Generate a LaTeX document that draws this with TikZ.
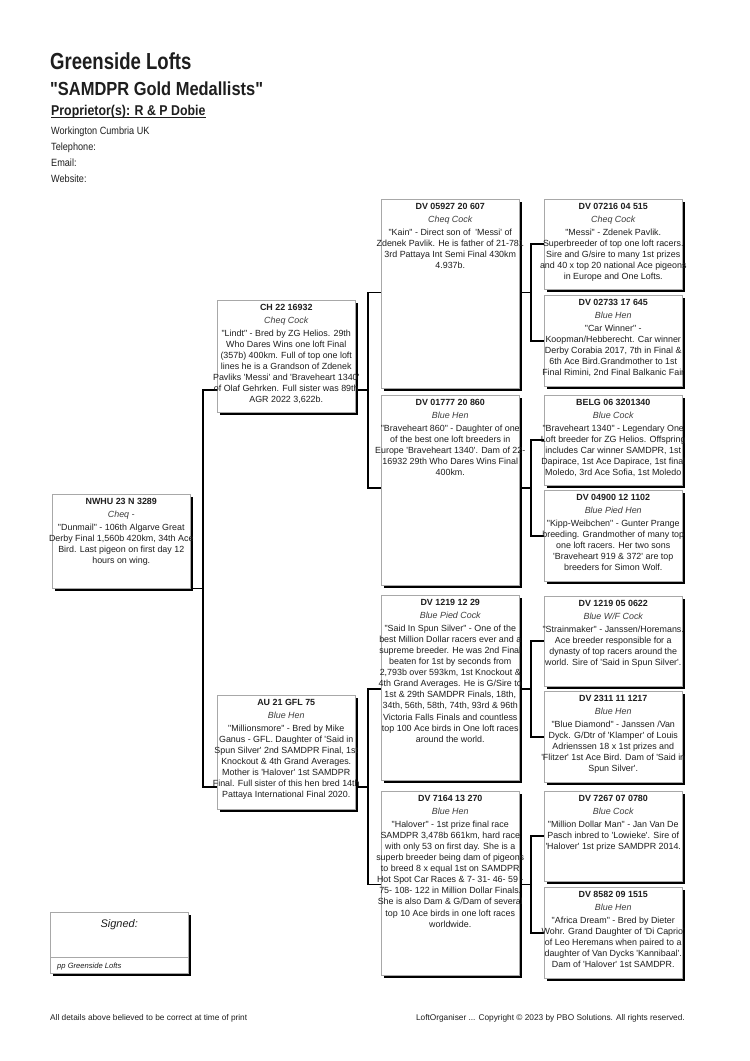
\documentclass[tikz,border=0pt]{standalone}
\usepackage{fontspec}
\setmainfont{Liberation Sans}
\newfontfamily\pedfont{Liberation Sans}
\newfontfamily\headfont{Liberation Sans}[FakeStretch=0.87]
\newfontfamily\titlefont{Liberation Sans}[FakeStretch=0.8]
\usepackage{tikz}
\usetikzlibrary{calc,positioning,shadows}
\pgfdeclarelayer{background}
\pgfsetlayers{background,main}
\definecolor{PedInk}{HTML}{1E1E1E}
\definecolor{PedEdge}{HTML}{A8A8A8}
\definecolor{PedGrey}{HTML}{3C3C3C}

\tikzset{
  pbox/.style={draw=PedEdge,line width=0.5pt,fill=white,anchor=north west,inner sep=0pt,
    minimum width=138pt,drop shadow={shadow xshift=2.6pt,shadow yshift=-2.6pt,fill=black,opacity=1}},
  ptext/.style={anchor=north,align=center,inner sep=0pt,text=PedInk,
    font=\pedfont\fontsize{8.9}{11.1}\selectfont},
  head/.style={anchor=base west,inner sep=0pt,text=PedInk},
  link/.style={line width=1.9pt,black,line join=miter},
}

% one pedigree card: name, top left, height, ring, colour, notes
\newcommand{\pigeon}[6]{%
  \node[pbox,minimum height=#3] (#1) at (#2) {};
  \node[ptext] (#1-t) at ([yshift=-3.6pt]#1.north)
    {\textbf{#4}\\[2pt]{\color{PedGrey}\itshape #5}\\[2pt]#6};
}

\begin{document}
\begin{tikzpicture}[x=1pt,y=-1pt]
  \begin{pgfonlayer}{background}
    \fill[white] (0,0) rectangle (750,1061);
  \end{pgfonlayer}
  \useasboundingbox (0,0) rectangle (750,1061);

  % header
  \node[head,font=\titlefont\bfseries\fontsize{23.2}{26}\selectfont] (title) at (50,69) {Greenside Lofts};
  \node[head,font=\headfont\bfseries\fontsize{18.9}{22}\selectfont] (subtitle) at (50,95) {"SAMDPR Gold Medallists"};
  \node[head,font=\headfont\bfseries\fontsize{14.2}{16}\selectfont] (owner) at (51,115) {Proprietor(s): R \& P Dobie};
  \draw[line width=1.1pt,PedInk] ([yshift=-2.6pt]owner.base west) -- ([yshift=-2.6pt]owner.base east);
  \foreach \t [count=\i] in {Workington Cumbria UK,Telephone:,Email:,Website:}{
    \node[head,font=\headfont\fontsize{10.5}{12}\selectfont] (addr\i) at (51,118+16*\i) {\t};
  }

  % subject
  \pigeon{p}{52,494}{94pt}{NWHU 23 N 3289}{Cheq -}{"Dunmail" - 106th Algarve Great\\Derby Final 1,560b 420km, 34th Ace\\Bird. Last pigeon on first day 12\\hours on wing.}

  % parents
  \pigeon{s}{217,300}{112pt}{CH 22 16932}{Cheq Cock}{"Lindt" - Bred by ZG Helios. 29th\\Who Dares Wins one loft Final\\(357b) 400km. Full of top one loft\\lines he is a Grandson of Zdenek\\Pavliks 'Messi' and 'Braveheart 1340'\\of Olaf Gehrken. Full sister was 89th\\AGR 2022 3,622b.}
  \pigeon{d}{217,695}{114pt}{AU 21 GFL 75}{Blue Hen}{"Millionsmore" - Bred by Mike\\Ganus - GFL. Daughter of 'Said in\\Spun Silver' 2nd SAMDPR Final, 1st\\Knockout \& 4th Grand Averages.\\Mother is 'Halover' 1st SAMDPR\\Final. Full sister of this hen bred 14th\\Pattaya International Final 2020.}

  % grandparents
  \pigeon{ss}{381,199}{189pt}{DV 05927 20 607}{Cheq Cock}{"Kain" - Direct son of \ 'Messi' of\\Zdenek Pavlik. He is father of 21-781\\3rd Pattaya Int Semi Final 430km\\4.937b.}
  \pigeon{sd}{381,395}{190pt}{DV 01777 20 860}{Blue Hen}{"Braveheart 860" - Daughter of one\\of the best one loft breeders in\\Europe 'Braveheart 1340'. Dam of 22-\\16932 29th Who Dares Wins Final\\400km.}
  \pigeon{ds}{381,595}{185pt}{DV 1219 12 29}{Blue Pied Cock}{"Said In Spun Silver" - One of the\\best Million Dollar racers ever and a\\supreme breeder. He was 2nd Final\\beaten for 1st by seconds from\\2,793b over 593km, 1st Knockout \&\\4th Grand Averages. He is G/Sire to\\1st \& 29th SAMDPR Finals, 18th,\\34th, 56th, 58th, 74th, 93rd \& 96th\\Victoria Falls Finals and countless\\top 100 Ace birds in One loft races\\around the world.}
  \pigeon{dd}{381,791}{184pt}{DV 7164 13 270}{Blue Hen}{"Halover" - 1st prize final race\\SAMDPR 3,478b 661km, hard race\\with only 53 on first day. She is a\\superb breeder being dam of pigeons\\to breed 8 x equal 1st on SAMDPR\\Hot Spot Car Races \& 7- 31- 46- 59 -\\75- 108- 122 in Million Dollar Finals.\\She is also Dam \& G/Dam of several\\top 10 Ace birds in one loft races\\worldwide.}

  % great grandparents
  \pigeon{sss}{544,199}{90pt}{DV 07216 04 515}{Cheq Cock}{"Messi" - Zdenek Pavlik.\\Superbreeder of top one loft racers.\\Sire and G/sire to many 1st prizes\\and 40 x top 20 national Ace pigeons\\in Europe and One Lofts.}
  \pigeon{ssd}{544,295}{91pt}{DV 02733 17 645}{Blue Hen}{"Car Winner" -\\Koopman/Hebberecht. Car winner\\Derby Corabia 2017, 7th in Final \&\\6th Ace Bird.Grandmother to 1st\\Final Rimini, 2nd Final Balkanic Fair}
  \pigeon{sds}{544,395}{90pt}{BELG 06 3201340}{Blue Cock}{"Braveheart 1340" - Legendary One\\Loft breeder for ZG Helios. Offspring\\includes Car winner SAMDPR, 1st\\Dapirace, 1st Ace Dapirace, 1st final\\Moledo, 3rd Ace Sofia, 1st Moledo}
  \pigeon{sdd}{544,490}{91pt}{DV 04900 12 1102}{Blue Pied Hen}{"Kipp-Weibchen" - Gunter Prange\\breeding. Grandmother of many top\\one loft racers. Her two sons\\'Braveheart 919 \& 372' are top\\breeders for Simon Wolf.}
  \pigeon{dss}{544,596}{90pt}{DV 1219 05 0622}{Blue W/F Cock}{"Strainmaker" - Janssen/Horemans.\\Ace breeder responsible for a\\dynasty of top racers around the\\world. Sire of 'Said in Spun Silver'.}
  \pigeon{dsd}{544,691}{91pt}{DV 2311 11 1217}{Blue Hen}{"Blue Diamond" - Janssen /Van\\Dyck. G/Dtr of 'Klamper' of Louis\\Adrienssen 18 x 1st prizes and\\'Flitzer' 1st Ace Bird. Dam of 'Said in\\Spun Silver'.}
  \pigeon{dds}{544,791}{90pt}{DV 7267 07 0780}{Blue Cock}{"Million Dollar Man" - Jan Van De\\Pasch inbred to 'Lowieke'. Sire of\\'Halover' 1st prize SAMDPR 2014.}
  \pigeon{ddd}{544,887}{91pt}{DV 8582 09 1515}{Blue Hen}{"Africa Dream" - Bred by Dieter\\Wohr. Grand Daughter of 'Di Caprio'\\of Leo Heremans when paired to a\\daughter of Van Dycks 'Kannibaal'.\\Dam of 'Halover' 1st SAMDPR.}

  % brackets, kept behind the cards
  \begin{pgfonlayer}{background}
    \foreach \p in {ss,sd,ds,dd}{
      \coordinate (\p-j) at ($(\p s.west)!.5!(\p d.west)+(-13,0)$);
      \draw[link] (\p s.west) -| (\p-j) |- (\p d.west);
      \draw[link] (\p.east |- \p-j) -- (\p-j);
    }
    \foreach \p in {s,d}{
      \coordinate (\p-j) at ($(\p s.west |- \p s-j)!.5!(\p d.west |- \p d-j)+(-13,0)$);
      \draw[link] (\p s.west |- \p s-j) -| (\p-j) |- (\p d.west |- \p d-j);
      \draw[link] (\p.east |- \p-j) -- (\p-j);
    }
    \coordinate (p-j) at ($(s.west |- s-j)!.5!(d.west |- d-j)+(-14,0)$);
    \draw[link] (s.west |- s-j) -| (p-j) |- (d.west |- d-j);
    \draw[link] (p.east |- p-j) -- (p-j);
  \end{pgfonlayer}

  % signature
  \node[pbox,minimum height=61pt,drop shadow={opacity=0}] (sign) at (50,912) {};
  \node[ptext,font=\pedfont\itshape\fontsize{11}{13}\selectfont] (sign-t) at ([yshift=-7pt]sign.north) {Signed:};
  \draw[PedEdge,line width=0.5pt] ([yshift=-45pt]sign.north west) -- ([yshift=-45pt]sign.north east);
  \node[head,font=\pedfont\itshape\fontsize{7.6}{9}\selectfont] (sign-by) at (57,968) {pp Greenside Lofts};

  % footer
  \node[head,font=\pedfont\fontsize{8.3}{10}\selectfont] (note) at (50,1020) {All details above believed to be correct at time of print};
  \node[head,anchor=base east,font=\pedfont\fontsize{8.3}{10}\selectfont] (copy) at (685,1020) {LoftOrganiser ... Copyright © 2023 by PBO Solutions. All rights reserved.};
\end{tikzpicture}
\end{document}
